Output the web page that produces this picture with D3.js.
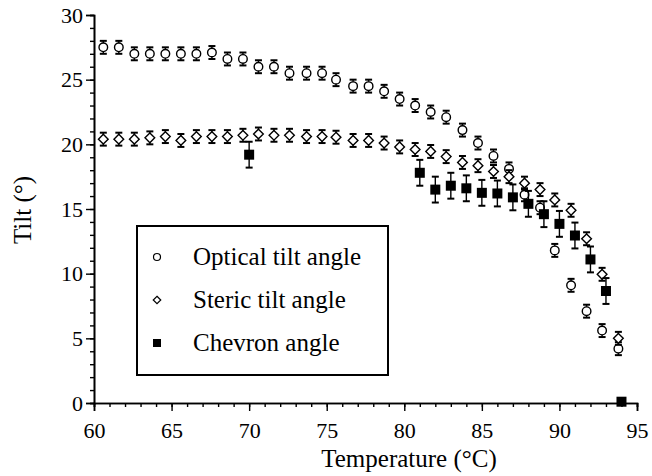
<!DOCTYPE html>
<html>
<head>
<meta charset="utf-8">
<script src="https://cdn.jsdelivr.net/npm/d3@7"></script>
<style>
  body { margin: 0; background: #fff; }
  svg text { font-family: "Liberation Serif", "Times New Roman", serif; fill: #000; }
</style>
</head>
<body>
<div class="svgContainer"></div>
<script>
// temperatures (deg C) shared by the optical and steric measurements
var tempsOpen = [60.6, 61.6, 62.6, 63.6, 64.6, 65.6, 66.6, 67.6, 68.6, 69.6,
                 70.6, 71.6, 72.6, 73.7, 74.7, 75.6, 76.7, 77.7, 78.7, 79.7,
                 80.7, 81.7, 82.7, 83.75, 84.75, 85.75, 86.75, 87.75, 88.75, 89.7,
                 90.75, 91.75, 92.75, 93.8];
var optical = [27.5, 27.5, 27.0, 27.0, 27.0, 27.0, 27.0, 27.1, 26.6, 26.6,
               26.0, 26.0, 25.5, 25.5, 25.5, 25.0, 24.5, 24.5, 24.1, 23.5,
               23.0, 22.5, 22.1, 21.1, 20.1, 19.1, 18.1, 16.1, 15.1, 11.8,
               9.1, 7.1, 5.6, 4.2];
var steric = [20.4, 20.4, 20.4, 20.5, 20.6, 20.3, 20.6, 20.6, 20.6, 20.7,
              20.8, 20.7, 20.7, 20.6, 20.6, 20.55, 20.3, 20.3, 20.1, 19.8,
              19.6, 19.45, 19.05, 18.6, 18.35, 17.9, 17.5, 17.0, 16.5, 15.7,
              14.9, 12.7, 9.95, 5.0];
var openErr = 0.5;

var tempsChev = [70, 81, 82, 83, 84, 85, 86, 87, 88, 89, 90, 91, 92, 93, 94];
var chevron = [19.2, 17.8, 16.5, 16.8, 16.6, 16.25, 16.2, 15.9, 15.4, 14.6, 13.85, 12.95, 11.1, 8.66, 0.1];
var chevErr = [1.0, 1.0, 1.0, 1.0, 1.0, 1.0, 1.0, 1.0, 1.0, 1.0, 1.0, 1.0, 1.0, 1.0, 0];

var xTicks = [60, 65, 70, 75, 80, 85, 90, 95];
var yTicks = [0, 5, 10, 15, 20, 25, 30];
var legendLabels = ["Optical tilt angle", "Steric tilt angle", "Chevron angle"];

var w = 652, h = 476;
var svg = d3.select(".svgContainer").append("svg")
            .attr("width", w).attr("height", h);

var x = d3.scaleLinear().domain([60, 95]).range([94, 637]);
var y = d3.scaleLinear().domain([0, 30]).range([403, 15]);

// axes: minor ticks every 1, major every 5
var xMinor = d3.axisBottom(x).tickValues(d3.range(60, 96, 1)).tickSize(4).tickFormat("");
var xMajor = d3.axisBottom(x).tickValues(xTicks).tickSize(8).tickPadding(11).tickFormat(d3.format("d"));
var yMinor = d3.axisLeft(y).tickValues(d3.range(0, 31, 1)).tickSize(4).tickFormat("");
var yMajor = d3.axisLeft(y).tickValues(yTicks).tickSize(8).tickPadding(3).tickFormat(d3.format("d"));

[[xMinor, "x"], [xMajor, "x"], [yMinor, "y"], [yMajor, "y"]].forEach(function (a) {
  var g = svg.append("g")
     .attr("transform", a[1] === "x" ? "translate(0," + y(0) + ")" : "translate(" + x(60) + ",0)")
     .call(a[0]);
  g.selectAll("path").attr("stroke", "#000").attr("stroke-width", 1.6);
  g.selectAll("line").attr("stroke", "#000").attr("stroke-width", 1.4);
  g.selectAll("text").style("font-family", '"Liberation Serif", serif').style("font-size", "22px").attr("fill", "#000");
});

svg.append("text")
   .attr("x", 409).attr("y", 467)
   .attr("text-anchor", "middle")
   .style("font-size", "25px")
   .text("Temperature (\u00B0C)");

svg.append("text")
   .attr("transform", "translate(31,210) rotate(-90)")
   .attr("text-anchor", "middle")
   .style("font-size", "25px")
   .text("Tilt (\u00B0)");

// error bars
function errorBars(xs, ys, errs, cap) {
  var g = svg.append("g").attr("stroke", "#000").attr("stroke-width", 1.4);
  xs.forEach(function (t, i) {
    var e = typeof errs === "number" ? errs : errs[i];
    if (!e) return;
    var cx = x(t), top = y(ys[i] + e), bot = y(ys[i] - e);
    g.append("line").attr("x1", cx).attr("x2", cx).attr("y1", top).attr("y2", bot);
    g.append("line").attr("x1", cx - cap).attr("x2", cx + cap).attr("y1", top).attr("y2", top).attr("stroke-width", 2);
    g.append("line").attr("x1", cx - cap).attr("x2", cx + cap).attr("y1", bot).attr("y2", bot).attr("stroke-width", 2);
  });
}

errorBars(tempsOpen, optical, openErr, 3.5);
svg.append("g").selectAll("circle")
   .data(optical).enter().append("circle")
   .attr("cx", function (d, i) { return x(tempsOpen[i]); })
   .attr("cy", function (d) { return y(d); })
   .attr("r", 4.3)
   .attr("fill", "#fff").attr("stroke", "#000").attr("stroke-width", 1.4);

errorBars(tempsOpen, steric, openErr, 3.5);
var diamond = d3.symbol().type(d3.symbolDiamond2).size(60);
svg.append("g").selectAll("path")
   .data(steric).enter().append("path")
   .attr("d", diamond)
   .attr("transform", function (d, i) { return "translate(" + x(tempsOpen[i]) + "," + y(d) + ")"; })
   .attr("fill", "#fff").attr("stroke", "#000").attr("stroke-width", 1.4);

errorBars(tempsChev, chevron, chevErr, 3.5);
svg.append("g").selectAll("rect")
   .data(chevron).enter().append("rect")
   .attr("x", function (d, i) { return x(tempsChev[i]) - 5; })
   .attr("y", function (d) { return y(d) - 5; })
   .attr("width", 10).attr("height", 10)
   .attr("fill", "#000");

// legend
var legend = svg.append("g");
legend.append("rect")
      .attr("x", 137).attr("y", 226).attr("width", 251).attr("height", 149)
      .attr("fill", "#fff").attr("stroke", "#000").attr("stroke-width", 2);
var rowY = [257, 300, 343];
legend.append("circle").attr("cx", 157).attr("cy", rowY[0]).attr("r", 3.5)
      .attr("fill", "#fff").attr("stroke", "#000").attr("stroke-width", 1.2);
legend.append("path").attr("d", d3.symbol().type(d3.symbolDiamond2).size(36))
      .attr("transform", "translate(157," + rowY[1] + ")")
      .attr("fill", "#fff").attr("stroke", "#000").attr("stroke-width", 1.2);
legend.append("rect").attr("x", 153).attr("y", rowY[2] - 4).attr("width", 8).attr("height", 8).attr("fill", "#000");
legend.selectAll("text.lab")
      .data(legendLabels).enter().append("text")
      .attr("class", "lab")
      .attr("x", 193)
      .attr("y", function (d, i) { return rowY[i] + 8; })
      .style("font-size", "25px")
      .text(function (d) { return d; });
</script>
</body>
</html>
